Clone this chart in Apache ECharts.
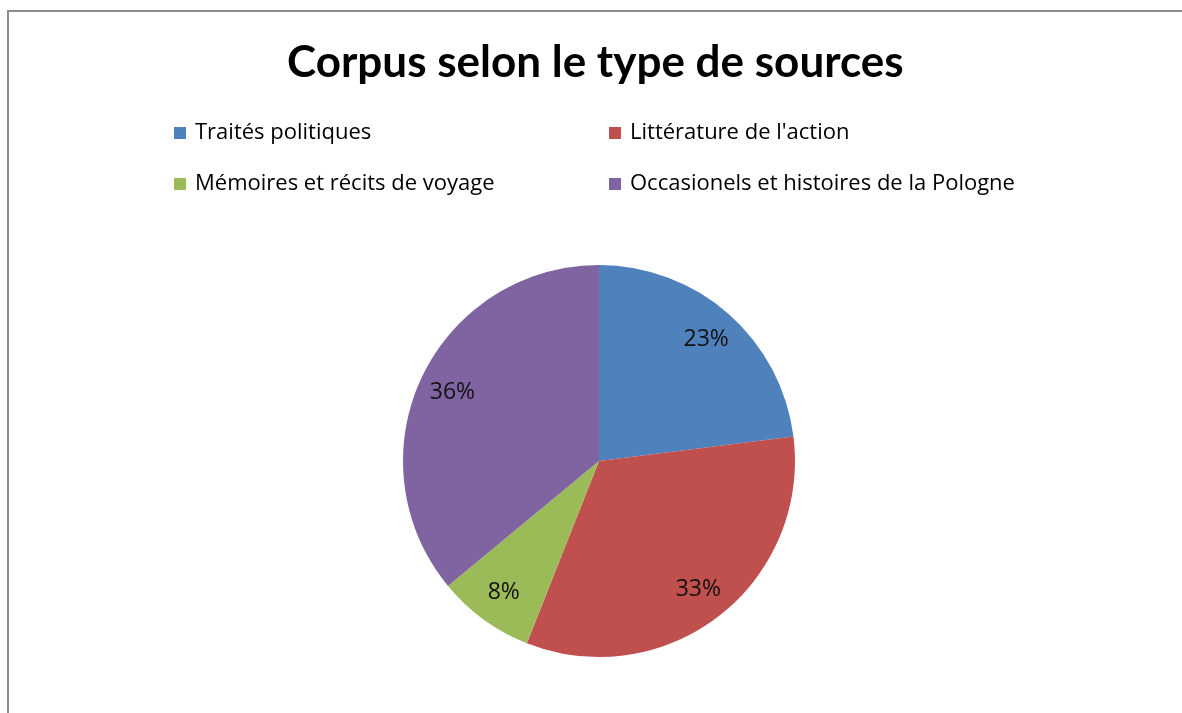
<!DOCTYPE html>
<html>
<head>
<meta charset="utf-8">
<script src="https://cdn.jsdelivr.net/npm/echarts@6/dist/echarts.min.js"></script>
<style>
  html, body { margin: 0; padding: 0; background: #fff; }
  #chart { width: 1182px; height: 713px; }
</style>
</head>
<body>
<div id="chart"></div>
<script>
// données
var categories = ['Traités politiques', "Littérature de l'action", 'Mémoires et récits de voyage', 'Occasionels et histoires de la Pologne'];
var values = [23, 33, 8, 36];
var colors = ['#4F81BD', '#C0504D', '#9BBB59', '#8064A2'];

var pieData = categories.map(function (name, i) {
  return { name: name, value: values[i] };
});

var titleFont = 'Lato, "Open Sans", sans-serif';
var textFont = '"Open Sans", Lato, sans-serif';

var legendText = { fontFamily: textFont, fontSize: 22, lineHeight: 20, color: '#000', padding: [0, 0, 0, 4] };

var chart = echarts.init(document.getElementById('chart'));
chart.setOption({
  animation: false,
  color: colors,
  title: {
    text: 'Corpus selon le type de sources',
    left: 282,
    top: 36,
    textStyle: { fontFamily: titleFont, fontWeight: 'bold', fontSize: 44, color: '#000' }
  },
  // bordure grise du cadre
  graphic: [{
    type: 'rect',
    shape: { x: 8, y: 11, width: 1200, height: 720 },
    style: { fill: 'none', stroke: '#8c8c8c', lineWidth: 2 },
    silent: true
  }],
  legend: [
    {
      left: 174, top: 122, orient: 'vertical', itemGap: 29, padding: 0,
      icon: 'rect', itemWidth: 12, itemHeight: 12,
      data: [categories[0], categories[2]],
      textStyle: legendText
    },
    {
      left: 609, top: 122, orient: 'vertical', itemGap: 29, padding: 0,
      icon: 'rect', itemWidth: 12, itemHeight: 12,
      data: [categories[1], categories[3]],
      textStyle: legendText
    }
  ],
  series: [
    {
      type: 'pie',
      center: [599, 461],
      radius: [0, 196],
      startAngle: 90,
      clockwise: true,
      label: { show: false },
      labelLine: { show: false },
      emphasis: { disabled: true },
      data: pieData
    },
    {
      // série transparente pour placer les étiquettes plus près du bord
      type: 'pie',
      center: [599, 461],
      radius: [122, 196],
      startAngle: 90,
      clockwise: true,
      silent: true,
      legendHoverLink: false,
      itemStyle: { color: 'rgba(0,0,0,0)', borderWidth: 0 },
      label: {
        show: true,
        position: 'inside',
        formatter: '{c}%',
        fontFamily: textFont,
        fontSize: 23,
        color: '#111'
      },
      labelLine: { show: false },
      emphasis: { disabled: true },
      data: pieData
    }
  ]
});
</script>
</body>
</html>
